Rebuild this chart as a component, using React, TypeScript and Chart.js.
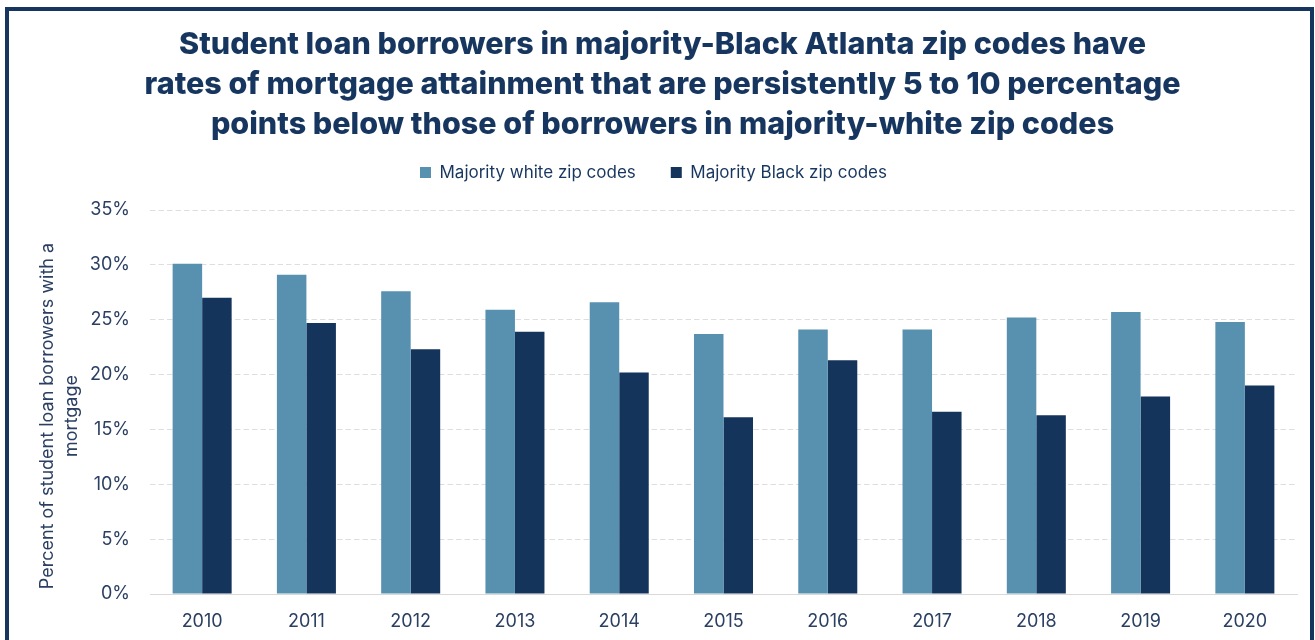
import React, { useEffect, useRef } from 'react';
import { Chart, registerables } from 'chart.js';

Chart.register(...registerables);

const years = ['2010', '2011', '2012', '2013', '2014', '2015', '2016', '2017', '2018', '2019', '2020'];
const whiteZip = [30.1, 29.1, 27.6, 25.9, 26.6, 23.7, 24.1, 24.1, 25.2, 25.7, 24.8];
const blackZip = [27.0, 24.7, 22.3, 23.9, 20.2, 16.1, 21.3, 16.6, 16.3, 18.0, 19.0];
const seriesNames = ['Majority white zip codes', 'Majority Black zip codes'];
const titleLines = [
  'Student loan borrowers in majority-Black Atlanta zip codes have',
  'rates of mortgage attainment that are persistently 5 to 10 percentage',
  'points below those of borrowers in majority-white zip codes',
];
const yTitleLines = ['Percent of student loan borrowers with a', 'mortgage'];
const yMin = 0;
const yMax = 35;
const yStep = 5;

const NAVY = '#17365f';
const TEXT = '#2a3f62';

const tweakPlugin = {
  id: 'tweak',
  beforeInit(chart: any) {
    const legend = chart.legend;
    if (legend) {
      const origFit = legend.fit;
      legend.fit = function () {
        origFit.call(this);
        this.height = 81;
      };
      const origDraw = legend.draw;
      legend.draw = function () {
        const c = this.ctx;
        c.save();
        c.translate(-9, 0);
        origDraw.call(this);
        c.restore();
      };
    }
  },
  beforeDraw(chart: any) {
    const s = chart.scales.y;
    if (s && !s.__wrapped) {
      const orig = s.drawTitle;
      s.drawTitle = function () {
        const c = this.ctx;
        c.save();
        c.translate(2, 14);
        orig.call(this);
        c.restore();
      };
      s.__wrapped = true;
    }
  },
};

export default function App() {
  const ref = useRef<HTMLCanvasElement | null>(null);

  useEffect(() => {
    document.documentElement.style.overflow = 'hidden';
    document.body.style.margin = '0';
    document.body.style.overflow = 'hidden';
    const ctx = ref.current;
    if (!ctx) return;
    const chart = new Chart(ctx, {
      type: 'bar',
      data: {
        labels: years,
        datasets: [
          {
            label: seriesNames[0],
            data: whiteZip,
            backgroundColor: '#5891b0',
            borderWidth: 0,
            categoryPercentage: 0.566,
            barPercentage: 1,
          },
          {
            label: seriesNames[1],
            data: blackZip,
            backgroundColor: '#15345c',
            borderWidth: 0,
            categoryPercentage: 0.566,
            barPercentage: 1,
          },
        ],
      },
      options: {
        animation: false,
        responsive: false,
        maintainAspectRatio: false,
        layout: { padding: { top: 25, left: 28, right: 18, bottom: 0 } },
        plugins: {
          title: {
            display: true,
            text: titleLines,
            color: NAVY,
            font: { family: 'Inter', size: 30.5, weight: '800', lineHeight: 40 / 30.5 },
            padding: { top: 0, bottom: -16 },
          },
          legend: {
            display: true,
            labels: {
              boxWidth: 11,
              boxHeight: 11,
              padding: 35,
              color: NAVY,
              font: { family: 'Inter', size: 17 },
            },
          },
          tooltip: { enabled: false },
        },
        scales: {
          x: {
            grid: { display: false, drawTicks: false },
            border: { display: true, color: '#d9d9d9', width: 1 },
            ticks: { color: TEXT, font: { family: 'Inter', size: 18 }, padding: 17 },
            afterFit: (s: any) => { s.height = 46; },
          },
          y: {
            min: yMin,
            max: yMax,
            grid: { color: '#dedede', drawTicks: false, lineWidth: 1 },
            border: { display: false, dash: [5.5, 3] },
            ticks: {
              stepSize: yStep,
              color: TEXT,
              font: { family: 'Inter', size: 18 },
              padding: 20,
              callback: (v: any) => v + '%',
            },
            title: {
              display: true,
              text: yTitleLines,
              color: TEXT,
              font: { family: 'Inter', size: 18, lineHeight: 24 / 18 },
              padding: { top: 6, bottom: 4 },
            },
            afterFit: (s: any) => { s.width = 122; },
          },
        },
      },
      plugins: [tweakPlugin],
    });
    return () => chart.destroy();
  }, []);

  return (
    <div style={{ position: 'relative', width: 1315, height: 640, overflow: 'hidden', background: '#fff' }}>
      <canvas ref={ref} width={1315} height={640} style={{ position: 'absolute', left: 0, top: 0 }} />
      <div
        style={{
          position: 'absolute',
          left: 5,
          top: 7,
          width: 1309 - 8,
          height: 700,
          border: '4px solid #17365f',
          pointerEvents: 'none',
        }}
      />
    </div>
  );
}
